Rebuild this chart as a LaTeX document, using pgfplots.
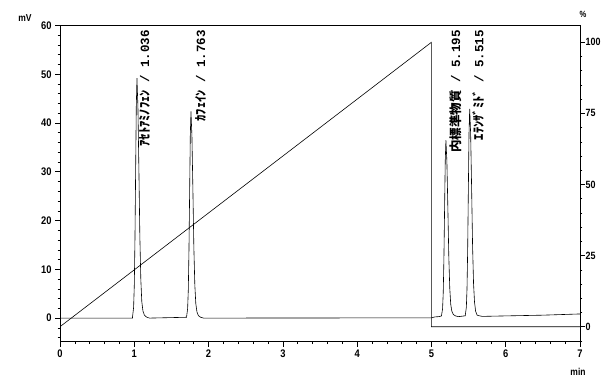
\documentclass[border=0pt]{standalone}
\usepackage{pgfplots}
\pgfplotsset{compat=1.18}
\usepackage{fontspec}
\setmainfont{Liberation Sans}
\newfontfamily\jp{Noto Sans CJK JP}
\newfontfamily\mono{Liberation Mono}
\newfontfamily\tickfont[FakeStretch=0.85]{Liberation Sans}

\begin{document}
\begin{tikzpicture}
\useasboundingbox (-60pt,-36.5pt) rectangle (542pt,341.5pt);
\begin{axis}[
  at={(0pt,0pt)}, anchor=south west,
  scale only axis, width=520pt, height=316pt,
  xmin=0, xmax=7, ymin=-4.8, ymax=60,
  xtick={0,1,...,7}, minor x tick num=4,
  ytick={-10,0,10,...,60}, minor y tick num=4,
  xtick pos=bottom, ytick pos=left,
  tick align=outside,
  major tick length=5pt, minor tick length=2.5pt,
  tick style={black, line width=0.6pt},
  axis line style={line width=0.7pt},
  ticklabel style={font=\tickfont\bfseries\fontsize{11}{11}\selectfont},
  /pgf/number format/assume math mode=true,
  clip=false,
]
\addplot[black, line width=0.6pt] coordinates {
(0,0) (0.976,0) (0.976,0.2) (0.991,2.2) (1.000,6.6) (1.009,16.0) (1.018,29.9) (1.027,43.4) (1.036,49.2)
(1.049,43.3) (1.062,30.5) (1.075,16.7) (1.088,7.9) (1.101,3.4) (1.116,1.5) (1.136,0.6) (1.166,0.2) (1.206,0)
(1.703,0.17) (1.718,1.9) (1.727,5.7) (1.736,13.8) (1.745,25.7) (1.754,37.4) (1.763,42.4)
(1.776,37.3) (1.789,26.3) (1.802,14.4) (1.815,6.8) (1.828,3.0) (1.843,1.3) (1.863,0.5) (1.893,0.17) (1.933,0)
(5.0,0.05) (5.05,0.25) (5.10,0.3)
(5.135,0.44) (5.150,1.9) (5.159,5.2) (5.168,12.1) (5.177,22.3) (5.186,32.2) (5.195,36.5)
(5.208,32.2) (5.221,22.7) (5.234,12.6) (5.247,6.1) (5.260,2.8) (5.275,1.4) (5.295,0.73) (5.325,0.44) (5.365,0.3)
(5.455,0.47) (5.470,2.2) (5.479,6.0) (5.488,14.1) (5.497,26.2) (5.506,37.9) (5.515,42.9)
(5.528,37.8) (5.541,26.7) (5.554,14.8) (5.567,7.1) (5.580,3.3) (5.595,1.4) (5.615,0.6) (5.645,0.47) (5.685,0.35)
(6.0,0.45) (6.5,0.6) (7.0,0.85)
};
\node[rotate=90, anchor=east, inner sep=0pt, font=\bfseries\fontsize{12.5}{12.5}\selectfont] at (axis cs:1.14,59.1) {{\jp ｱｾﾄｱﾐﾉﾌｪﾝ}\mono\ / 1.036};
\node[rotate=90, anchor=east, inner sep=0pt, font=\bfseries\fontsize{12.5}{12.5}\selectfont] at (axis cs:1.89,59.1) {{\jp ｶﾌｪｲﾝ}\mono\ / 1.763};
\node[rotate=90, anchor=east, inner sep=0pt, font=\bfseries\fontsize{12.5}{12.5}\selectfont] at (axis cs:5.322,59.1) {{\jp 内標準物質}\mono\ / 5.195};
\node[rotate=90, anchor=east, inner sep=0pt, font=\bfseries\fontsize{12.5}{12.5}\selectfont] at (axis cs:5.632,59.1) {{\jp ｴﾃﾝｻﾞﾐﾄﾞ}\mono\ / 5.515};
\end{axis}
\begin{axis}[
  at={(0pt,0pt)}, anchor=south west,
  scale only axis, width=520pt, height=316pt,
  xmin=0, xmax=7, ymin=-5.2, ymax=105.9,
  axis x line=none, axis y line*=right,
  ytick={-25,0,25,50,75,100}, minor y tick num=4,
  tick align=outside,
  major tick length=5pt, minor tick length=2.5pt,
  tick style={black, line width=0.6pt},
  axis line style={line width=0.7pt, -},
  yticklabel style={font=\tickfont\bfseries\fontsize{10.5}{10.5}\selectfont, inner sep=0.5pt},
  /pgf/number format/assume math mode=true,
]
\addplot[black, line width=0.6pt] coordinates {(0,0) (5,100) (5,0) (7,0)};
\end{axis}
\node[font=\tickfont\bfseries\fontsize{10}{10}\selectfont] at (-35pt,323.5pt) {mV};
\node[font=\tickfont\bfseries\fontsize{9}{9}\selectfont] at (523pt,327.5pt) {\%};
\node[font=\tickfont\bfseries\fontsize{10}{10}\selectfont] at (518pt,-30.5pt) {min};
\end{tikzpicture}
\end{document}
